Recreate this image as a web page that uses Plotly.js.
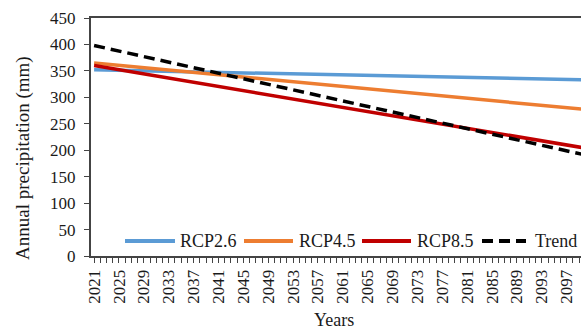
<!DOCTYPE html>
<html><head><meta charset="utf-8">
<script src="https://cdn.plot.ly/plotly-3.0.1.min.js"></script>
<style>html,body{margin:0;padding:0;background:#fff;}#chart{width:581px;height:329px;}</style>
</head><body><div id="chart"></div>
<script>
const years = [2021, 2100];
const rcp26 = [352, 333];
const rcp45 = [365, 277];
const rcp85 = [360, 204];
const trend = [398, 191];
const tickYears = [2021,2025,2029,2033,2037,2041,2045,2049,2053,2057,2061,2065,2069,2073,2077,2081,2085,2089,2093,2097];
const seriesNames = ['RCP2.6','RCP4.5','RCP8.5','Trend'];
const xTitle = 'Years';
const yTitle = 'Annual precipitation (mm)';

const fam = '"Liberation Serif", "Times New Roman", serif';
const txt = '#1a1a1a';
const colors = ['#5B9BD5','#ED7D31','#C00000','#000000'];
const dashes = ['solid','solid','solid','11px,6px'];
const series = [rcp26, rcp45, rcp85, trend];

const traces = series.map((s,i) => ({
  x: years, y: s, name: seriesNames[i], mode: 'lines',
  line: {color: colors[i], width: 3.5, dash: dashes[i]}
}));

// custom legend (plot-area fractions)
const L = {l:91, r:581, t:18, b:256};
const fx = px => (px - L.l) / (L.r - L.l);
const fy = py => (L.b - py) / (L.b - L.t);
const legendLineX = [[125,175],[244,293],[362,411],[482,526]];
const legendTextX = [178, 297, 415, 533];
const legendY = 241;
const shapes = legendLineX.map((xx,i) => ({
  type:'line', xref:'paper', yref:'paper', x0:fx(xx[0]), x1:fx(xx[1]), y0:fy(legendY), y1:fy(legendY),
  line:{color:colors[i], width:4, dash:dashes[i]}
}));
const annotations = legendTextX.map((x,i) => ({
  xref:'paper', yref:'paper', x:fx(x), y:fy(legendY), xanchor:'left', yanchor:'middle',
  text: seriesNames[i], showarrow:false, font:{family:fam, size:18, color:txt}
}));
annotations.push({xref:'paper', yref:'paper', x:fx(23), y:fy(158), xanchor:'center', yanchor:'middle', textangle:-90,
  text:yTitle, showarrow:false, font:{family:fam, size:19, color:txt}});
annotations.push({xref:'paper', yref:'paper', x:fx(334), y:fy(320), xanchor:'center', yanchor:'middle',
  text:xTitle, showarrow:false, font:{family:fam, size:18, color:txt}});

const layout = {
  width:581, height:329,
  margin:{l:91, r:0, t:18, b:73},
  paper_bgcolor:'#fff', plot_bgcolor:'#fff',
  font:{family:fam, color:txt, size:16},
  showlegend:false,
  shapes: shapes, annotations: annotations,
  xaxis:{range:[2020.5, 2099.3], tickmode:'array', tickvals:tickYears, ticktext:tickYears.map(String), tickangle:-90,
    ticks:'outside', ticklen:5, tickcolor:'#444', showline:true, linecolor:'#444', linewidth:2, mirror:true, showgrid:false, zeroline:false,
    minor:{dtick:1, tick0:2021, ticks:'outside', ticklen:5, tickcolor:'#444', showgrid:false},
    tickfont:{family:fam, size:17, color:txt}},
  yaxis:{range:[0,450], dtick:50, ticks:'outside', ticklen:5, tickcolor:'#444', showline:true, linecolor:'#444', linewidth:2, showgrid:false, zeroline:false,
    tickfont:{family:fam, size:17, color:txt}, ticklabelstandoff:5}
};
Plotly.newPlot('chart', traces, layout, {displayModeBar:false, staticPlot:true});
</script></body></html>
